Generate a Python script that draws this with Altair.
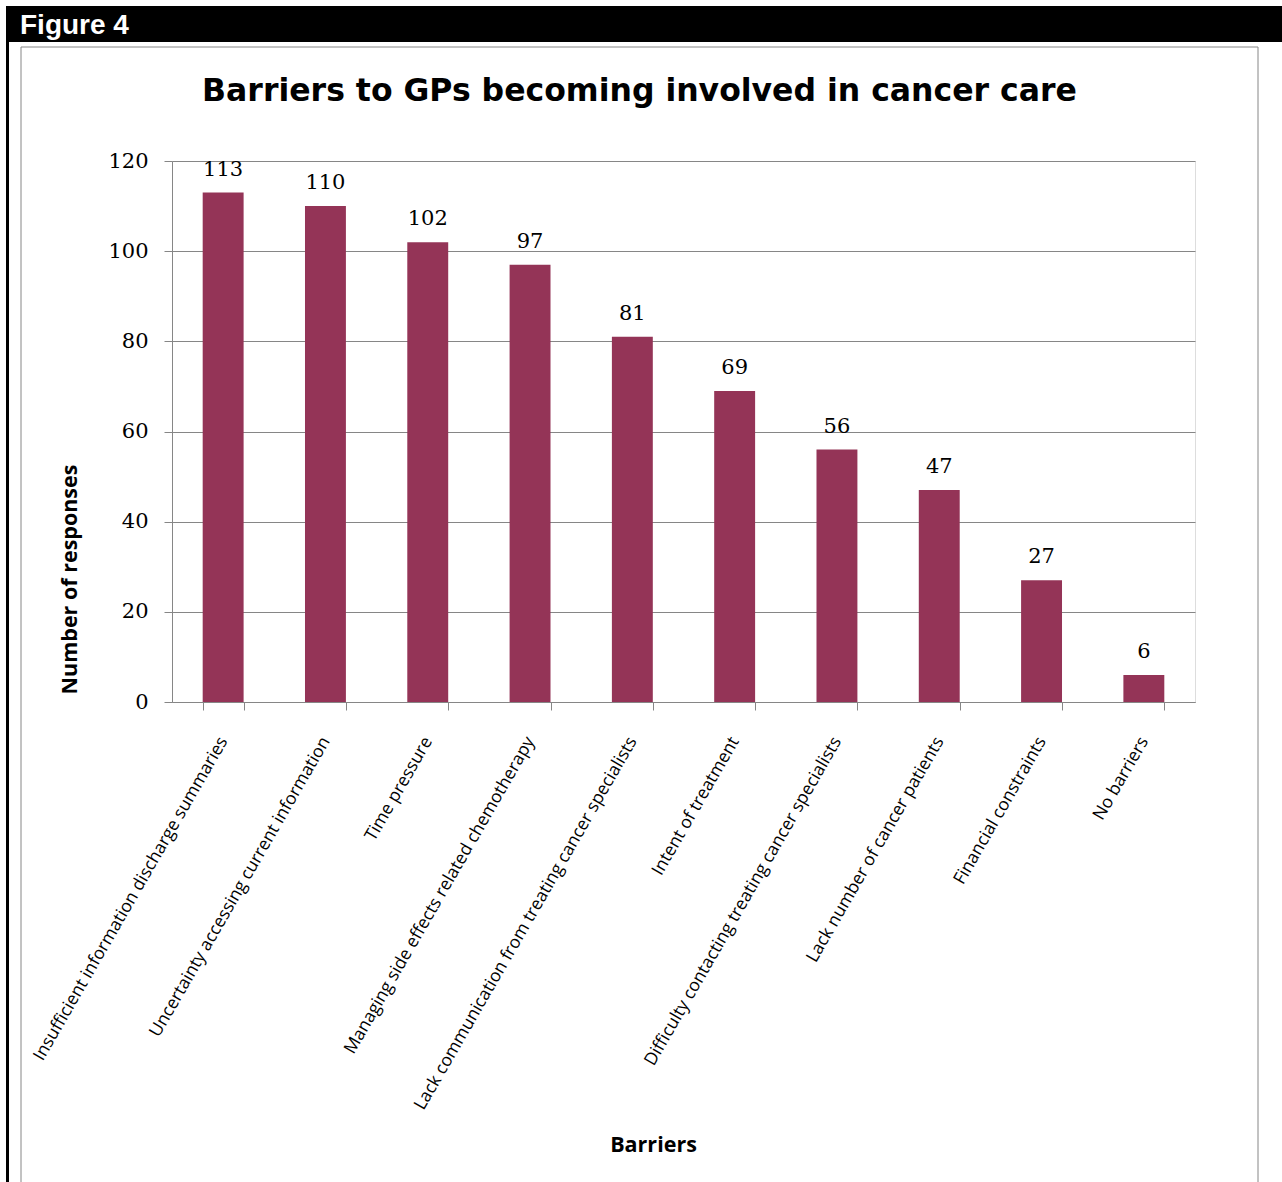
import altair as alt
import pandas as pd

categories = [
    "Insufficient information discharge summaries",
    "Uncertainty accessing current information",
    "Time pressure",
    "Managing side effects related chemotherapy",
    "Lack communication from treating cancer specialists",
    "Intent of treatment",
    "Difficulty contacting treating cancer specialists",
    "Lack number of cancer patients",
    "Financial constraints",
    "No barriers",
]
responses = [113, 110, 102, 97, 81, 69, 56, 47, 27, 6]
y_ticks = [0, 20, 40, 60, 80, 100, 120]

df = pd.DataFrame({"Barrier": categories, "Responses": responses})
one = pd.DataFrame({"k": [0]})

W, H = 1023, 541
PL, PT = 172, 161
TOTAL_W, TOTAL_H = 1282, 1182

BAR = "#943457"
GRAY = "#868686"

x_enc = alt.X(
    "Barrier:N",
    sort=categories,
    scale=alt.Scale(paddingInner=0.6, paddingOuter=0.3),
    axis=alt.Axis(
        title="Barriers",
        titleFont="Open Sans",
        titleFontSize=21.5,
        titleFontWeight="bold",
        titleColor="#000000",
        titleX=481,
        titleY=443,
        titleBaseline="middle",
        labelAngle=-60,
        labelAlign="right",
        labelBaseline="middle",
        labelFont="Open Sans",
        labelFontSize=17.5,
        labelColor="#000000",
        labelPadding=28,
        labelLimit=0,
        tickBand="extent",
        tickSize=8,
        tickColor=GRAY,
        domainColor=GRAY,
        grid=False,
    ),
)

y_enc = alt.Y(
    "Responses:Q",
    scale=alt.Scale(domain=[0, 120], nice=False),
    axis=alt.Axis(
        values=y_ticks,
        title="Number of responses",
        titleFont="Open Sans",
        titleFontSize=21.5,
        titleFontWeight="bold",
        titleColor="#000000",
        titleX=-102,
        titleY=418,
        titleAngle=-90,
        titleAlign="center",
        titleBaseline="middle",
        labelFont="DejaVu Serif",
        labelFontSize=21,
        labelColor="#000000",
        labelPadding=16,
        tickSize=8,
        tickColor=GRAY,
        domainColor=GRAY,
        gridColor=GRAY,
        gridWidth=1.2,
    ),
)

bars = alt.Chart(df).mark_bar(color=BAR).encode(x=x_enc, y=y_enc)

labels = alt.Chart(df).mark_text(
    font="DejaVu Serif", fontSize=21, color="#000000",
    baseline="alphabetic", dy=-17,
).encode(x=alt.X("Barrier:N", sort=categories), y="Responses:Q", text="Responses:Q")

# decorations: header bar, left border, chart frame
header = alt.Chart(one).mark_rect(color="#000000").encode(
    x=alt.value(6 - PL), x2=alt.value(TOTAL_W - PL),
    y=alt.value(6 - PT), y2=alt.value(42 - PT),
)
header_text = alt.Chart(one).mark_text(
    text="Figure 4", font="Liberation Sans", fontSize=28, fontWeight="bold",
    color="#ffffff", align="left", baseline="alphabetic",
).encode(x=alt.value(20 - PL), y=alt.value(34 - PT))
left_line = alt.Chart(one).mark_rect(color="#000000").encode(
    x=alt.value(6 - PL), x2=alt.value(9 - PL),
    y=alt.value(42 - PT), y2=alt.value(TOTAL_H - PT),
)
frame = alt.Chart(one).mark_rect(fill=None, stroke=GRAY, strokeWidth=1).encode(
    x=alt.value(21 - PL), x2=alt.value(1258 - PL),
    y=alt.value(47 - PT), y2=alt.value(TOTAL_H + 5 - PT),
)

chart = alt.layer(frame, header, header_text, left_line, bars, labels).properties(
    width=W,
    height=H,
    title=alt.TitleParams(
        "Barriers to GPs becoming involved in cancer care",
        font="DejaVu Sans",
        fontSize=31.5,
        fontWeight="bold",
        color="#000000",
        anchor="middle",
        dx=-44,
        offset=-101,
    ),
    padding={"left": PL, "top": PT, "right": TOTAL_W - PL - W, "bottom": TOTAL_H - PT - H},
    autosize=alt.AutoSizeParams(type="none"),
).configure_view(stroke=None).configure(background="#ffffff")

chart.save("out.html", embed_options={"renderer": "svg", "actions": False})
